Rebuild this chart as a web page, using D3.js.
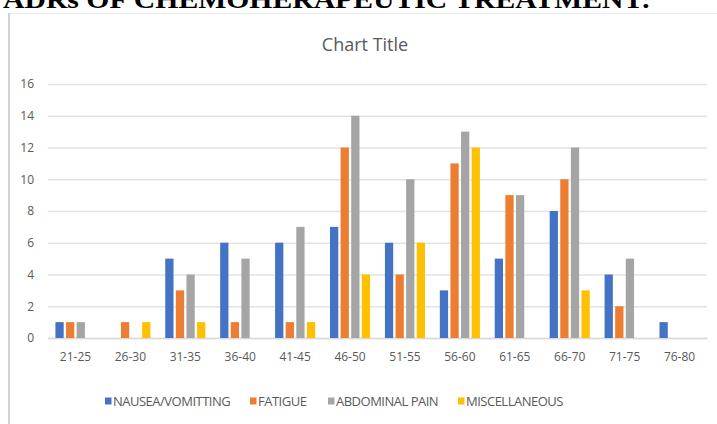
<!DOCTYPE html>
<html>
<head>
<meta charset="utf-8">
<script src="https://cdn.jsdelivr.net/npm/d3@7"></script>
<style>
  html, body { margin: 0; padding: 0; background: #fff; }
  svg { display: block; }
</style>
</head>
<body>
<svg id="chart" width="717" height="424"></svg>
<script>
// Age groups and counts of adverse drug reactions per group
const ageGroups = ["21-25","26-30","31-35","36-40","41-45","46-50","51-55","56-60","61-65","66-70","71-75","76-80"];
const seriesNames = ["NAUSEA/VOMITTING","FATIGUE","ABDOMINAL PAIN","MISCELLANEOUS"];
const nausea        = [1,0,5,6,6,7,6,3,5,8,4,1];
const fatigue       = [1,1,3,1,1,12,4,11,9,10,2,0];
const abdominalPain = [1,0,4,5,7,14,10,13,9,12,5,0];
const miscellaneous = [0,1,1,0,1,4,6,12,0,3,0,0];
const yTicks = [0,2,4,6,8,10,12,14,16];
const colors = ["#4472C4","#ED7D31","#A5A5A5","#FFC000"];

const seriesValues = [nausea, fatigue, abdominalPain, miscellaneous];
const rows = ageGroups.map((g, i) => ({
  group: g,
  values: seriesNames.map((s, k) => ({ series: s, value: seriesValues[k][i] }))
}));

const svg = d3.select("#chart");

// Heading above the chart frame
svg.append("text")
  .attr("x", 3).attr("y", 8)
  .attr("font-family", "Liberation Serif, Times New Roman, serif")
  .attr("font-weight", "bold")
  .attr("font-size", 26)
  .attr("textLength", 648)
  .attr("lengthAdjust", "spacingAndGlyphs")
  .attr("fill", "#000")
  .text("ADRs OF CHEMOHERAPEUTIC TREATMENT:");

// Chart frame
svg.append("line").attr("x1", 9).attr("x2", 717).attr("y1", 13.5).attr("y2", 13.5)
  .attr("stroke", "#ececec").attr("stroke-width", 1);
svg.append("line").attr("x1", 9).attr("x2", 9).attr("y1", 13).attr("y2", 424)
  .attr("stroke", "#d4d4d4").attr("stroke-width", 2);

svg.append("text")
  .attr("x", 365).attr("y", 51)
  .attr("text-anchor", "middle")
  .attr("font-family", "Open Sans, sans-serif")
  .attr("font-size", 18)
  .attr("fill", "#595959")
  .text("Chart Title");

const x0 = d3.scaleBand().domain(ageGroups).range([48, 707]).paddingInner(0.27).paddingOuter(0.135);
const x1 = d3.scaleBand().domain(seriesNames).range([0, x0.bandwidth()]).paddingInner(0.22);
const y = d3.scaleLinear().domain([0, 16]).range([338, 84]);
const color = d3.scaleOrdinal().domain(seriesNames).range(colors);

// Gridlines and y labels
const yAxis = d3.axisLeft(y).tickValues(yTicks).tickSize(-(707 - 48)).tickFormat(d3.format("d"));
const gy = svg.append("g").attr("transform", "translate(48,0)").call(yAxis);
gy.select(".domain").remove();
gy.selectAll(".tick line").attr("stroke", "#e3e3e3").attr("stroke-width", 1.3);
gy.selectAll(".tick text")
  .attr("x", -14)
  .attr("font-family", "Open Sans, sans-serif")
  .attr("font-size", 12)
  .attr("fill", "#595959");

// x labels
const xAxis = d3.axisBottom(x0).tickSize(0).tickPadding(14);
const gx = svg.append("g").attr("transform", "translate(0,338)").call(xAxis);
gx.select(".domain").attr("stroke", "#d9d9d9").attr("stroke-width", 1.3);
gx.selectAll(".tick text")
  .attr("font-family", "Open Sans, sans-serif")
  .attr("font-size", 12)
  .attr("fill", "#595959");

// Bars
svg.append("g").selectAll("g")
  .data(rows).join("g")
  .attr("transform", d => `translate(${x0(d.group)},0)`)
  .selectAll("rect")
  .data(d => d.values.filter(v => v.value > 0)).join("rect")
  .attr("x", d => x1(d.series))
  .attr("width", x1.bandwidth())
  .attr("y", d => y(d.value))
  .attr("height", d => y(0) - y(d.value))
  .attr("fill", d => color(d.series));

// Legend
const legendX = [105, 250, 328, 458];
const legend = svg.append("g").selectAll("g")
  .data(seriesNames).join("g")
  .attr("transform", (d, i) => `translate(${legendX[i]},401)`);
legend.append("rect")
  .attr("x", 0).attr("y", -3.5).attr("width", 6.5).attr("height", 7)
  .attr("fill", d => color(d));
legend.append("text")
  .attr("x", 8).attr("y", 5)
  .attr("font-family", "Open Sans, sans-serif")
  .attr("font-size", 13)
  .attr("letter-spacing", -0.5)
  .attr("fill", "#595959")
  .text(d => d);
</script>
</body>
</html>
